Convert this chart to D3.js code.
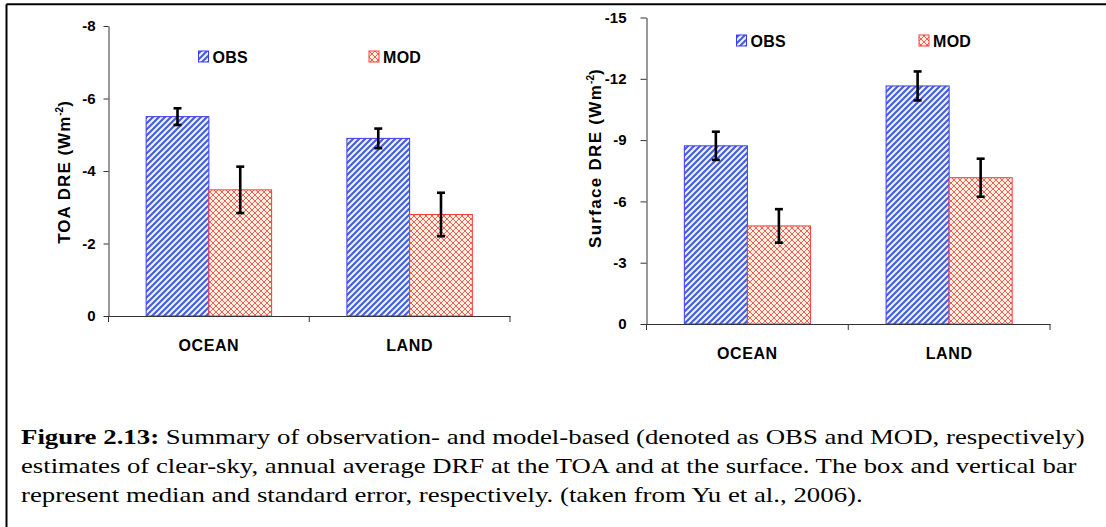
<!DOCTYPE html>
<html>
<head>
<meta charset="utf-8">
<script src="https://cdn.jsdelivr.net/npm/d3@7"></script>
<style>
html,body{margin:0;padding:0;background:#fff;}
svg{display:block;}
</style>
</head>
<body>
<svg id="chart" width="1106" height="527"></svg>
<script>
// ---- data ----
const categories = ["OCEAN", "LAND"];
const seriesNames = ["OBS", "MOD"];
const toaObs = [-5.5, -4.9];
const toaObsErr = [0.23, 0.27];
const toaMod = [-3.48, -2.8];
const toaModErr = [0.64, 0.6];
const sfcObs = [-8.72, -11.65];
const sfcObsErr = [0.69, 0.71];
const sfcMod = [-4.8, -7.16];
const sfcModErr = [0.82, 0.93];
const toaTicks = [0, -2, -4, -6, -8];
const sfcTicks = [0, -3, -6, -9, -12, -15];
const toaLabel = ["TOA DRE (Wm", "-2", ")"];
const sfcLabel = ["Surface DRE (Wm", "-2", ")"];
const captionBold = "Figure 2.13:";
const captionLines = [
  " Summary of observation- and model-based (denoted as OBS and MOD, respectively)",
  "estimates of clear-sky, annual average DRF at the TOA and at the surface. The box and vertical bar",
  "represent median and standard error, respectively. (taken from Yu et al., 2006)."
];

const svg = d3.select("#chart");
const sans = "Arial, Liberation Sans, sans-serif";
const serif = "Times New Roman, Liberation Serif, serif";

// frame
svg.append("line").attr("x1", 6.5).attr("x2", 1106).attr("y1", 4.2).attr("y2", 4.2)
  .attr("stroke", "#000").attr("stroke-width", 2);
svg.append("line").attr("x1", 6.5).attr("x2", 6.5).attr("y1", 4.2).attr("y2", 527)
  .attr("stroke", "#000").attr("stroke-width", 2);

// patterns
const defs = svg.append("defs");
const pObs = defs.append("pattern").attr("id", "pObs").attr("patternUnits", "userSpaceOnUse")
  .attr("width", 6).attr("height", 6);
pObs.append("rect").attr("width", 6).attr("height", 6).attr("fill", "#f7f3de");
pObs.append("path").attr("d", "M-1,1 L1,-1 M0,6 L6,0 M5,7 L7,5")
  .attr("stroke", "#3f5ee8").attr("stroke-width", 2.1);
const pMod = defs.append("pattern").attr("id", "pMod").attr("patternUnits", "userSpaceOnUse")
  .attr("width", 6).attr("height", 6);
pMod.append("rect").attr("width", 6).attr("height", 6).attr("fill", "#f8f3e0");
pMod.append("path").attr("d", "M0,0 L6,6 M6,0 L0,6 M-1,5 L1,7 M5,-1 L7,1 M-1,1 L1,-1 M5,7 L7,5")
  .attr("stroke", "#f04a4a").attr("stroke-width", 0.9);

const fills = {OBS: "url(#pObs)", MOD: "url(#pMod)"};
const strokes = {OBS: "#3a3cf5", MOD: "#ff3a3a"};

function drawPanel(cfg) {
  const g = svg.append("g");
  const x = d3.scaleBand().domain(categories).range([cfg.x0, cfg.x1]);
  const xs = d3.scaleBand().domain(seriesNames).range([0, x.bandwidth()]).paddingInner(0).paddingOuter(0.6);
  const y = d3.scaleLinear().domain([0, cfg.ticks[cfg.ticks.length - 1]]).range([cfg.yBottom, cfg.yTop]);

  const rows = [];
  categories.forEach((c, i) => {
    rows.push({cat: c, s: "OBS", v: cfg.obs[i], e: cfg.obsErr[i]});
    rows.push({cat: c, s: "MOD", v: cfg.mod[i], e: cfg.modErr[i]});
  });
  g.selectAll("rect.bar").data(rows).join("rect").attr("class", "bar")
    .attr("x", d => x(d.cat) + xs(d.s))
    .attr("y", d => y(d.v))
    .attr("width", xs.bandwidth())
    .attr("height", d => y(0) - y(d.v))
    .attr("fill", d => fills[d.s])
    .attr("stroke", d => strokes[d.s]).attr("stroke-width", 1);

  const eb = g.selectAll("g.eb").data(rows).join("g").attr("class", "eb")
    .attr("stroke", "#000").attr("stroke-width", 2.6);
  const cx = d => x(d.cat) + xs(d.s) + xs.bandwidth() / 2;
  eb.append("line").attr("x1", cx).attr("x2", cx)
    .attr("y1", d => y(d.v - d.e)).attr("y2", d => y(d.v + d.e));
  eb.append("line").attr("x1", d => cx(d) - 4).attr("x2", d => cx(d) + 4)
    .attr("y1", d => y(d.v - d.e)).attr("y2", d => y(d.v - d.e));
  eb.append("line").attr("x1", d => cx(d) - 4).attr("x2", d => cx(d) + 4)
    .attr("y1", d => y(d.v + d.e)).attr("y2", d => y(d.v + d.e));

  const ya = g.append("g").attr("transform", `translate(${cfg.x0},0)`)
    .call(d3.axisLeft(y).tickValues(cfg.ticks).tickSize(cfg.tickSize).tickSizeOuter(0)
      .tickPadding(cfg.tickPad).tickFormat(d => String(d)));
  ya.attr("font-family", sans).attr("font-size", 15);
  ya.select(".domain").attr("stroke", "#333");
  ya.selectAll(".tick line").attr("stroke", "#333");
  ya.selectAll("text").attr("font-weight", "bold").attr("fill", "#000");

  const xa = g.append("g").attr("transform", `translate(0,${cfg.yBottom})`)
    .call(d3.axisBottom(x).tickSize(0).tickSizeOuter(0).tickPadding(cfg.catPad));
  xa.attr("font-family", sans).attr("font-size", 16);
  xa.select(".domain").attr("stroke", "#333");
  xa.selectAll("text").attr("font-weight", "bold").attr("fill", "#000").attr("letter-spacing", 0.6);
  const bounds = categories.map(c => x(c)).concat([x(categories[categories.length - 1]) + x.bandwidth()]);
  xa.selectAll("line.bt").data(bounds).join("line").attr("class", "bt")
    .attr("x1", d => d).attr("x2", d => d).attr("y1", 0).attr("y2", 6).attr("stroke", "#333");

  const lab = g.append("text")
    .attr("transform", `translate(${cfg.labX},${cfg.labY}) rotate(-90)`)
    .attr("text-anchor", "middle").attr("font-family", sans).attr("font-weight", "bold")
    .attr("font-size", cfg.labSize).attr("letter-spacing", cfg.labSpacing).attr("fill", "#000");
  lab.append("tspan").text(cfg.label[0]);
  lab.append("tspan").attr("dy", -7).attr("font-size", 10).attr("letter-spacing", 0).text(cfg.label[1]);
  lab.append("tspan").attr("dy", 7).text(cfg.label[2]);

  cfg.legend.forEach((lg, i) => {
    const s = seriesNames[i];
    g.append("rect").attr("x", lg[0]).attr("y", lg[1]).attr("width", 10).attr("height", 11)
      .attr("fill", fills[s]).attr("stroke", strokes[s]).attr("stroke-width", 1);
    g.append("text").attr("x", lg[0] + 14).attr("y", lg[1] + 11.5)
      .attr("font-family", sans).attr("font-weight", "bold").attr("font-size", 16)
      .attr("letter-spacing", 0.3).attr("fill", "#000").text(s);
  });
}

drawPanel({
  x0: 108.5, x1: 510, yBottom: 316, yTop: 26, ticks: toaTicks,
  obs: toaObs, obsErr: toaObsErr, mod: toaMod, modErr: toaModErr,
  tickSize: 5, tickPad: 8, catPad: 24,
  label: toaLabel, labX: 70, labY: 172, labSize: 17, labSpacing: 1.0,
  legend: [[198.5, 51], [369, 51]]
});

drawPanel({
  x0: 646.5, x1: 1050, yBottom: 324, yTop: 17.5, ticks: sfcTicks,
  obs: sfcObs, obsErr: sfcObsErr, mod: sfcMod, modErr: sfcModErr,
  tickSize: 6, tickPad: 14, catPad: 24,
  label: sfcLabel, labX: 601, labY: 158, labSize: 17, labSpacing: 1.3,
  legend: [[736.5, 35], [919, 35]]
});

const capBase = [444, 473, 502];
const capWidth = [1064, 1057, 842];
captionLines.forEach((line, i) => {
  const grp = svg.append("g").attr("transform", `translate(21,${capBase[i]})`);
  const t = grp.append("text").attr("x", 0).attr("y", 0)
    .attr("font-family", serif).attr("font-size", 22).attr("fill", "#000");
  if (i === 0) t.append("tspan").attr("font-weight", "bold").text(captionBold);
  t.append("tspan").text(line);
  const w = t.node().getBBox().width;
  t.attr("transform", `scale(${capWidth[i] / w},1)`);
});
</script>
</body>
</html>
